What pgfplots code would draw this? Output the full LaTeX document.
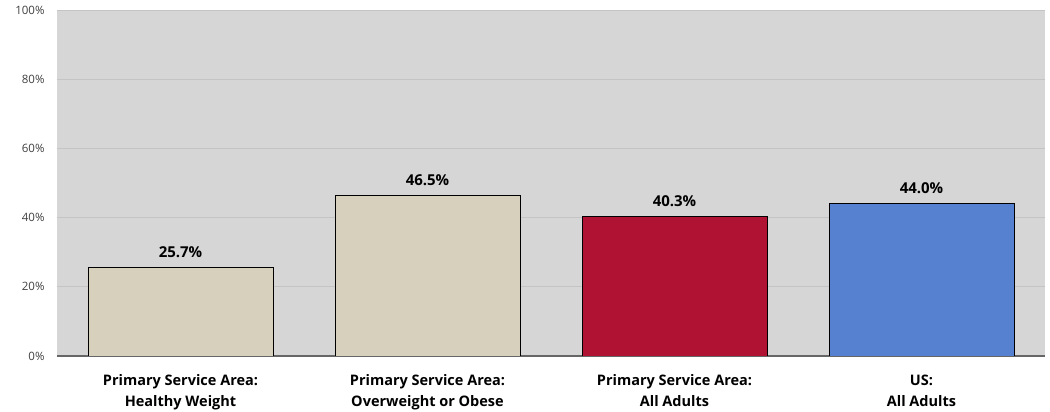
\documentclass[border=0pt]{standalone}
\usepackage{fontspec}
\setmainfont{Open Sans}
\usepackage{pgfplots}
\pgfplotsset{compat=1.18}
\definecolor{bgc}{HTML}{D6D6D6}
\definecolor{gridc}{HTML}{C4C4C4}
\definecolor{beige}{HTML}{D6D0BC}
\definecolor{crim}{HTML}{B01233}
\definecolor{blu}{HTML}{5680D0}
\begin{document}
\begin{tikzpicture}
\useasboundingbox (-57pt,-56pt) rectangle (993pt,356pt);
\begin{axis}[
  at={(0,0)}, anchor=south west,
  scale only axis, width=988pt, height=346pt,
  xmin=-0.5, xmax=3.5, ymin=0, ymax=100,
  ytick={0,20,40,60,80,100},
  yticklabel={\pgfmathprintnumber{\tick}\%},
  /pgf/number format/assume math mode=true,
  yticklabel style={font=\fontsize{11.5}{12}\selectfont, text=black!75, xshift=-9pt},
  xtick={0,1,2,3},
  xticklabels={{Primary Service Area:\\Healthy Weight},{Primary Service Area:\\Overweight or Obese},{Primary Service Area:\\All Adults},{US:\\All Adults}},
  xticklabel style={font=\bfseries\fontsize{14.5}{21}\selectfont, align=center, yshift=-15pt},
  major tick length=0pt,
  axis background/.style={fill=bgc},
  ymajorgrids, grid style={gridc, line width=0.8pt},
  axis x line=bottom, axis y line=left, axis line style={-},
  y axis line style={draw=none},
  x axis line style={draw=black!60, line width=1.2pt},
  ybar, bar width=185pt, bar shift=0pt,
  nodes near coords={\pgfmathprintnumber[fixed,fixed zerofill,precision=1]{\pgfplotspointmeta}\%},
  every node near coord/.style={font=\bfseries\fontsize{15}{17}\selectfont, text=black, yshift=6pt},
  point meta=explicit,
]
\addplot[fill=beige, draw=black, line width=0.8pt] coordinates {(0,25.7) [25.7] (1,46.5) [46.5]};
\addplot[fill=crim, draw=black, line width=0.8pt] coordinates {(2,40.3) [40.3]};
\addplot[fill=blu, draw=black, line width=0.8pt] coordinates {(3,44.0) [44.0]};
\end{axis}
\end{tikzpicture}
\end{document}
